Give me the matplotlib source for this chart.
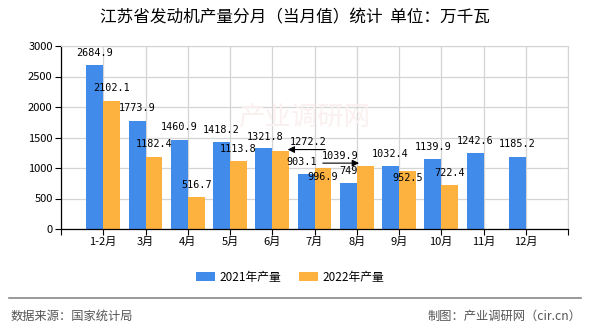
import matplotlib
matplotlib.use("Agg")
import numpy as np
from matplotlib import pyplot as plt

plt.rcParams['font.family'] = ['Noto Sans CJK SC', 'DejaVu Sans']

months = ["1-2月", "3月", "4月", "5月", "6月", "7月", "8月", "9月", "10月", "11月", "12月"]
output2021 = [2684.9, 1773.9, 1460.9, 1418.2, 1321.8, 903.1, 749, 1032.4, 1139.9, 1242.6, 1185.2]
output2022 = [2102.1, 1182.4, 516.7, 1113.8, 1272.2, 996.9, 1039.9, 952.5, 722.4]
labels2021 = ["2684.9", "1773.9", "1460.9", "1418.2", "1321.8", "903.1", "749", "1032.4", "1139.9", "1242.6", "1185.2"]
labels2022 = ["2102.1", "1182.4", "516.7", "1113.8", "1272.2", "996.9", "1039.9", "952.5", "722.4"]

# label offsets in pixels (dx, dy), like the collision-avoided labels of the original
off2021 = [(0, 12), (0, 13), (0, 13), (0, 12), (1, 11), (-4, 12), (0, 12), (0, 12), (0, 12), (0, 12), (0, 13)]
off2022 = [(0, 13), (0, 13), (0, 12), (0, 12), (27, 9), (0, -9), (-25, 10), (0, -7), (0, 12)]

blue = "#418bea"
orange = "#fdb240"
w = 0.4

fig = plt.figure(figsize=(5.9, 3.3), dpi=100)
ax = fig.add_axes([61/590, 1-229/330, (568-61)/590, (229-46)/330])

x1 = np.arange(len(output2021))
x2 = np.arange(len(output2022))
ax.bar(x1 - w/2, output2021, width=w, color=blue, zorder=2, label="2021年产量")
ax.bar(x2 + w/2, output2022, width=w, color=orange, zorder=2, label="2022年产量")

px = 0.72  # pixel -> points
for i, v in enumerate(output2021):
    dx, dy = off2021[i]
    ax.annotate(labels2021[i], (i - w/2, v), xytext=(dx*px, dy*px), textcoords="offset points",
                ha="center", va="center", fontsize=7.3, family="DejaVu Sans Mono", zorder=4)
for i, v in enumerate(output2022):
    dx, dy = off2022[i]
    ax.annotate(labels2022[i], (i + w/2, v), xytext=(dx*px, dy*px), textcoords="offset points",
                ha="center", va="center", fontsize=7.3, family="DejaVu Sans Mono", zorder=4)

# leader lines for the two moved labels
ax.annotate("", xy=(4 + 0.3, output2022[4] + 30), xytext=(5.32, output2022[4] + 30),
            arrowprops=dict(arrowstyle="-|>", color="black", lw=0.8, mutation_scale=10), zorder=4)
ax.annotate("", xy=(6 + 0.12, output2022[6] + 40), xytext=(5.13, output2022[6] + 40),
            arrowprops=dict(arrowstyle="-|>", color="black", lw=0.8, mutation_scale=10), zorder=4)

ax.text(0.48, 0.61, "产业调研网", transform=ax.transAxes, fontsize=19, color="#fbf0f0",
        ha="center", va="center", zorder=1)

ax.set_xlim(-1, 11)
ax.set_ylim(0, 3000)
ax.set_yticks(np.arange(0, 3001, 500))
ax.set_xticks(np.arange(-1, 12))
ax.set_xticklabels([""] + months + [""])
ax.tick_params(axis="both", labelsize=8, length=4, width=0.8, color="black", pad=2)
ax.grid(True, color="#d4d4d4", lw=0.9, zorder=0)
ax.set_axisbelow(True)
for s in ["top", "right"]:
    ax.spines[s].set_color("#d4d4d4")
for s in ["left", "bottom"]:
    ax.spines[s].set_color("black")
    ax.spines[s].set_linewidth(0.9)

fig.text(295/590, 1-18/330, "江苏省发动机产量分月（当月值）统计  单位：万千瓦", ha="center", va="center",
         fontsize=12)

fig.legend(loc="center", bbox_to_anchor=(290/590, 1-277/330), ncol=2, frameon=False, fontsize=8.5,
           handlelength=1.6, handleheight=0.7, handletextpad=0.4, columnspacing=1.5)

fig.add_artist(plt.Line2D([9/590, 581/590], [1-298/330, 1-298/330], color="#888888", lw=1.2))
fig.text(11/590, 1-316/330, "数据来源：国家统计局", ha="left", va="center", fontsize=8.8, color="#555555")
fig.text(581/590, 1-316/330, "制图：产业调研网（cir.cn）", ha="right", va="center", fontsize=8.8, color="#555555")

fig.savefig("out.png", dpi=100)
